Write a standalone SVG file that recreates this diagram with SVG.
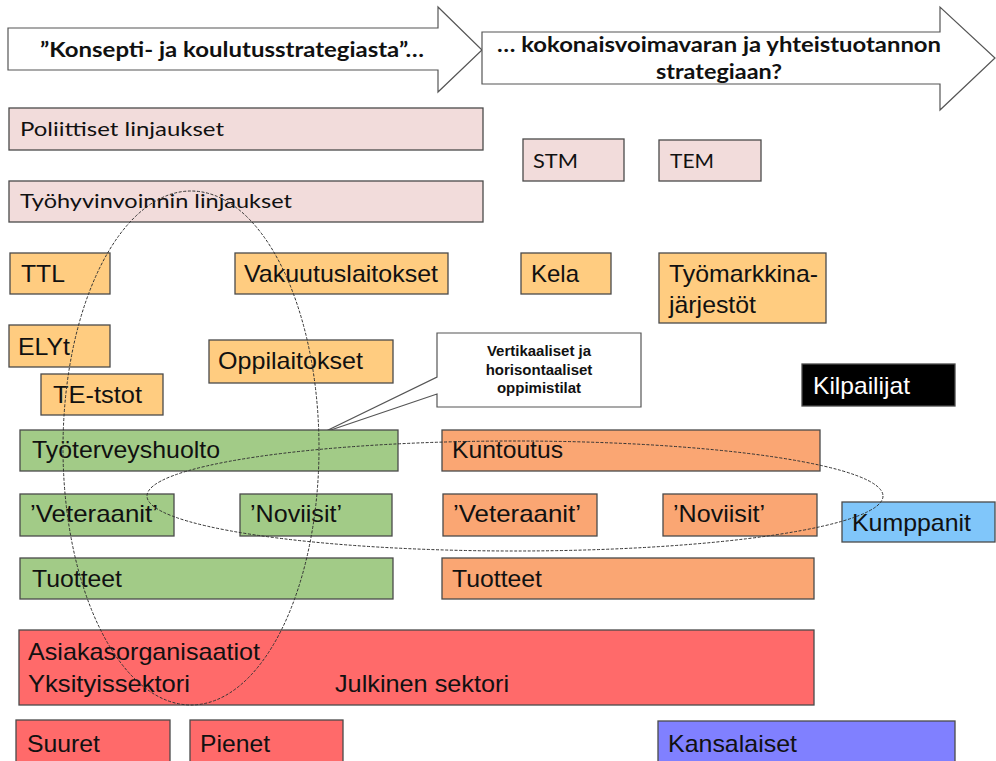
<svg xmlns="http://www.w3.org/2000/svg" width="996" height="761" viewBox="0 0 996 761">
  <style>
    .box { stroke: #4a4a4a; stroke-width: 1.3; }
    .pink { fill: #F2DCDB; }
    .amber { fill: #FFCC80; }
    .green { fill: #A2CB87; }
    .orange { fill: #FAA673; }
    .red { fill: #FF6A6A; }
    .blue { fill: #80C6FA; }
    .violet { fill: #8080FF; }
    .black { fill: #000000; }
    .arrow { fill: #ffffff; stroke: #555555; stroke-width: 1.2; }
    .t { font-family: "Liberation Sans", Arial, sans-serif; font-size: 24px; fill: #111111; }
    .c { font-family: Lato, "Liberation Sans", sans-serif; font-size: 20px; fill: #111111; }
    .cb { font-family: Lato, "Liberation Sans", sans-serif; font-size: 21px; font-weight: bold; fill: #111111; }
    .note { font-family: "Liberation Sans", Arial, sans-serif; font-size: 15px; font-weight: bold; fill: #111111; }
    .ring { fill: none; stroke: #333333; stroke-width: 1; stroke-dasharray: 3 1.6; }
  </style>

  <!-- strategy arrows -->
  <g id="arrow-from">
    <path class="arrow" d="M8,28 H438 V7 L482,50 L438,92 V70 H8 Z"/>
    <text class="cb" x="232" y="57" text-anchor="middle" textLength="384" lengthAdjust="spacingAndGlyphs">”Konsepti- ja koulutusstrategiasta”…</text>
  </g>
  <g id="arrow-to">
    <path class="arrow" d="M482,32 H940 V7 L995,58 L940,110 V84 H482 Z"/>
    <text class="cb" x="719" y="52" text-anchor="middle" textLength="444" lengthAdjust="spacingAndGlyphs">… kokonaisvoimavaran ja yhteistuotannon</text>
    <text class="cb" x="719" y="79" text-anchor="middle" textLength="126" lengthAdjust="spacingAndGlyphs">strategiaan?</text>
  </g>

  <!-- policy level -->
  <g id="poliittiset">
    <rect class="box pink" x="9" y="108" width="474" height="42"/>
    <text class="c" x="20" y="136" textLength="204" lengthAdjust="spacingAndGlyphs">Poliittiset linjaukset</text>
  </g>
  <g id="tyohyvinvointi">
    <rect class="box pink" x="9" y="181" width="474" height="41"/>
    <text class="c" x="20" y="208" textLength="272" lengthAdjust="spacingAndGlyphs">Työhyvinvoinnin linjaukset</text>
  </g>
  <g id="stm">
    <rect class="box pink" x="523" y="139" width="101" height="42"/>
    <text class="c" x="533" y="168" font-size="22" textLength="45" lengthAdjust="spacingAndGlyphs">STM</text>
  </g>
  <g id="tem">
    <rect class="box pink" x="659" y="140" width="102" height="41"/>
    <text class="c" x="670" y="168" font-size="22" textLength="44" lengthAdjust="spacingAndGlyphs">TEM</text>
  </g>

  <!-- institutions -->
  <g id="ttl">
    <rect class="box amber" x="10" y="253" width="100" height="41"/>
    <text class="t" x="21" y="282" textLength="44" lengthAdjust="spacingAndGlyphs">TTL</text>
  </g>
  <g id="vakuutuslaitokset">
    <rect class="box amber" x="235" y="253" width="213" height="41"/>
    <text class="t" x="244" y="282" textLength="194" lengthAdjust="spacingAndGlyphs">Vakuutuslaitokset</text>
  </g>
  <g id="kela">
    <rect class="box amber" x="521" y="253" width="90" height="41"/>
    <text class="t" x="531" y="282" textLength="48" lengthAdjust="spacingAndGlyphs">Kela</text>
  </g>
  <g id="tyomarkkinajarjestot">
    <rect class="box amber" x="659" y="253" width="167" height="70"/>
    <text class="t" x="669" y="282" textLength="149" lengthAdjust="spacingAndGlyphs">Työmarkkina-</text>
    <text class="t" x="669" y="313" textLength="87" lengthAdjust="spacingAndGlyphs">järjestöt</text>
  </g>
  <g id="elyt">
    <rect class="box amber" x="9" y="325" width="101" height="42"/>
    <text class="t" x="18" y="355" textLength="52" lengthAdjust="spacingAndGlyphs">ELYt</text>
  </g>
  <g id="oppilaitokset">
    <rect class="box amber" x="209" y="340" width="184" height="43"/>
    <text class="t" x="218" y="369" textLength="145" lengthAdjust="spacingAndGlyphs">Oppilaitokset</text>
  </g>
  <g id="te-tstot">
    <rect class="box amber" x="41" y="374" width="122" height="41"/>
    <text class="t" x="53" y="403" textLength="89" lengthAdjust="spacingAndGlyphs">TE-tstot</text>
  </g>

  <!-- callout -->
  <g id="oppimistilat">
    <path d="M437,333 H641 V407 H437 V394 L322,433 L437,377 Z" fill="#ffffff" stroke="#555555" stroke-width="1.2"/>
    <text class="note" x="539" y="356" text-anchor="middle">Vertikaaliset ja</text>
    <text class="note" x="539" y="375" text-anchor="middle">horisontaaliset</text>
    <text class="note" x="539" y="393" text-anchor="middle">oppimistilat</text>
  </g>

  <g id="kilpailijat">
    <rect class="box black" x="802" y="364" width="153" height="42"/>
    <text class="t" x="813" y="394" fill="#ffffff" style="fill:#ffffff" textLength="97" lengthAdjust="spacingAndGlyphs">Kilpailijat</text>
  </g>

  <!-- occupational health column -->
  <g id="tyoterveyshuolto">
    <rect class="box green" x="20" y="430" width="378" height="41"/>
    <text class="t" x="32" y="458" textLength="188" lengthAdjust="spacingAndGlyphs">Työterveyshuolto</text>
  </g>
  <g id="tth-veteraanit">
    <rect class="box green" x="20" y="494" width="154" height="42"/>
    <text class="t" x="30" y="522" textLength="128" lengthAdjust="spacingAndGlyphs">’Veteraanit’</text>
  </g>
  <g id="tth-noviisit">
    <rect class="box green" x="240" y="494" width="152" height="42"/>
    <text class="t" x="250" y="522" textLength="92" lengthAdjust="spacingAndGlyphs">’Noviisit’</text>
  </g>
  <g id="tth-tuotteet">
    <rect class="box green" x="20" y="558" width="373" height="41"/>
    <text class="t" x="32" y="587" textLength="90" lengthAdjust="spacingAndGlyphs">Tuotteet</text>
  </g>

  <!-- rehabilitation column -->
  <g id="kuntoutus">
    <rect class="box orange" x="442" y="430" width="378" height="41"/>
    <text class="t" x="452" y="458" textLength="111" lengthAdjust="spacingAndGlyphs">Kuntoutus</text>
  </g>
  <g id="kunt-veteraanit">
    <rect class="box orange" x="443" y="494" width="154" height="42"/>
    <text class="t" x="453" y="522" textLength="128" lengthAdjust="spacingAndGlyphs">’Veteraanit’</text>
  </g>
  <g id="kunt-noviisit">
    <rect class="box orange" x="663" y="494" width="154" height="42"/>
    <text class="t" x="673" y="522" textLength="92" lengthAdjust="spacingAndGlyphs">’Noviisit’</text>
  </g>
  <g id="kunt-tuotteet">
    <rect class="box orange" x="442" y="558" width="372" height="41"/>
    <text class="t" x="452" y="587" textLength="90" lengthAdjust="spacingAndGlyphs">Tuotteet</text>
  </g>
  <g id="kumppanit">
    <rect class="box blue" x="842" y="502" width="153" height="40"/>
    <text class="t" x="852" y="531" textLength="119" lengthAdjust="spacingAndGlyphs">Kumppanit</text>
  </g>

  <!-- customers -->
  <g id="asiakasorganisaatiot">
    <rect class="box red" x="19" y="630" width="795" height="75"/>
    <text class="t" x="28" y="660" textLength="232" lengthAdjust="spacingAndGlyphs">Asiakasorganisaatiot</text>
    <text class="t" x="28" y="692" textLength="162" lengthAdjust="spacingAndGlyphs">Yksityissektori</text>
    <text class="t" x="335" y="692" textLength="174" lengthAdjust="spacingAndGlyphs">Julkinen sektori</text>
  </g>
  <g id="suuret">
    <rect class="box red" x="16" y="720" width="154" height="44"/>
    <text class="t" x="27" y="752" textLength="73" lengthAdjust="spacingAndGlyphs">Suuret</text>
  </g>
  <g id="pienet">
    <rect class="box red" x="190" y="720" width="153" height="44"/>
    <text class="t" x="200" y="752" textLength="70" lengthAdjust="spacingAndGlyphs">Pienet</text>
  </g>
  <g id="kansalaiset">
    <rect class="box violet" x="658" y="721" width="297" height="43"/>
    <text class="t" x="668" y="752" textLength="129" lengthAdjust="spacingAndGlyphs">Kansalaiset</text>
  </g>

  <!-- dashed learning-space outlines -->
  <g id="connectors">
    <ellipse class="ring" cx="191" cy="448" rx="128" ry="257"/>
    <ellipse class="ring" cx="515" cy="496" rx="368" ry="55"/>
  </g>
</svg>
